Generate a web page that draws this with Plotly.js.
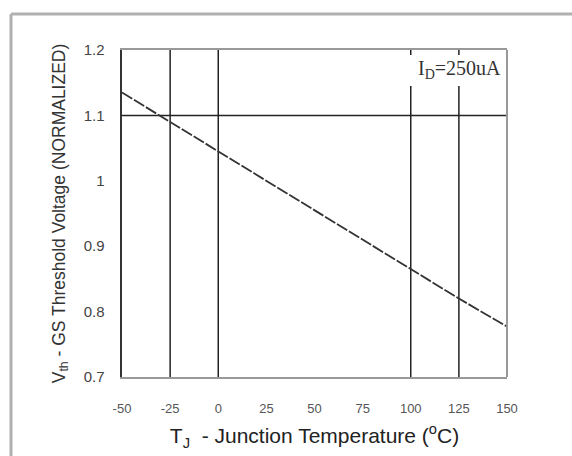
<!DOCTYPE html>
<html>
<head>
<meta charset="utf-8">
<script src="https://cdn.plot.ly/plotly-3.0.1.min.js"></script>
<style>html,body{margin:0;padding:0;background:#fff;}#chart{width:572px;height:456px;}</style>
</head>
<body>
<div id="chart"></div>
<script>
// Data
var tempC = [-50, -25, 0, 25, 50, 75, 100, 125, 150];
var vthNorm = [1.135, 1.09, 1.045, 1.0, 0.955, 0.91, 0.865, 0.82, 0.777];
var xTicks = [-50, -25, 0, 25, 50, 75, 100, 125, 150];
var xTickText = ['-50', '-25', '0', '25', '50', '75', '100', '125', '150'];
var yTicks = [0.7, 0.8, 0.9, 1.0, 1.1, 1.2];
var yTickText = ['0.7', '0.8', '0.9', '1', '1.1', '1.2'];
var gridX = [-25, 0, 100, 125];
var gridY = [1.1];
var labelText = 'I<sub>D</sub>=250uA';

var W = 572, H = 456, L = 122, R = 65, T = 50, B = 79;
var pw = W - L - R, ph = H - T - B;
function px(x) { return (x - L) / pw; }
function py(y) { return (H - B - y) / ph; }

var gapTop = py(55), gapBot = py(86);
var shapes = [];
gridX.forEach(function (g) {
  var gapped = g >= 100;
  shapes.push({type: 'line', xref: 'x', yref: 'paper', x0: g, x1: g, y0: 0, y1: gapped ? gapBot : 1,
    line: {color: '#222', width: 1.5}, layer: 'below'});
  if (gapped) {
    shapes.push({type: 'line', xref: 'x', yref: 'paper', x0: g, x1: g, y0: gapTop, y1: 1,
      line: {color: '#222', width: 1.5}, layer: 'below'});
  }
});
gridY.forEach(function (g) {
  shapes.push({type: 'line', xref: 'paper', yref: 'y', x0: 0, x1: 1, y0: g, y1: g,
    line: {color: '#222', width: 1.5}, layer: 'below'});
});
// right border of plot
shapes.push({type: 'line', xref: 'paper', yref: 'paper', x0: 1, x1: 1, y0: 0, y1: 1,
  line: {color: '#999', width: 2}});
// outer frame (top and left)
shapes.push({type: 'line', xref: 'paper', yref: 'paper', x0: px(11), x1: px(572), y0: py(14), y1: py(14),
  line: {color: '#b0b0b0', width: 3}});
shapes.push({type: 'line', xref: 'paper', yref: 'paper', x0: px(11), x1: px(11), y0: py(14), y1: py(456),
  line: {color: '#b0b0b0', width: 3}});

var trace = {
  x: tempC, y: vthNorm, type: 'scatter', mode: 'lines',
  line: {color: '#333', width: 1.8, dash: '12px,2px'},
  hoverinfo: 'skip'
};

var layout = {
  width: W, height: H,
  margin: {l: L, r: R, t: T, b: B, pad: 0},
  paper_bgcolor: '#fff', plot_bgcolor: '#fff',
  showlegend: false,
  font: {family: 'Liberation Sans, Arial, sans-serif', color: '#444'},
  xaxis: {
    range: [-50, 150], tickvals: xTicks, ticktext: xTickText,
    showgrid: false, zeroline: false, showline: true, mirror: true,
    linecolor: '#999', linewidth: 2, ticks: '', ticklabelstandoff: 18,
    tickfont: {size: 13, color: '#555'},
    title: {text: 'T<sub>J</sub>  - Junction Temperature (<sup>o</sup>C)', standoff: 14,
      font: {size: 21, color: '#222'}}
  },
  yaxis: {
    range: [0.7, 1.2], tickvals: yTicks, ticktext: yTickText,
    showgrid: false, zeroline: false, showline: true, mirror: false,
    linecolor: '#333', linewidth: 2.5, ticks: '', ticklabelstandoff: 12,
    tickfont: {size: 15, color: '#444'},
    title: {text: 'V<sub>th</sub> - GS Threshold Voltage (NORMALIZED)', standoff: 14,
      font: {size: 17.5, color: '#333'}}
  },
  shapes: shapes,
  annotations: [{
    xref: 'paper', yref: 'paper', x: px(503), y: py(69), xanchor: 'right', yanchor: 'middle',
    text: labelText, showarrow: false,
    font: {family: 'Liberation Serif, Times New Roman, serif', size: 20, color: '#333'}
  }]
};

Plotly.newPlot('chart', [trace], layout, {displayModeBar: false, staticPlot: true});
</script>
</body>
</html>
